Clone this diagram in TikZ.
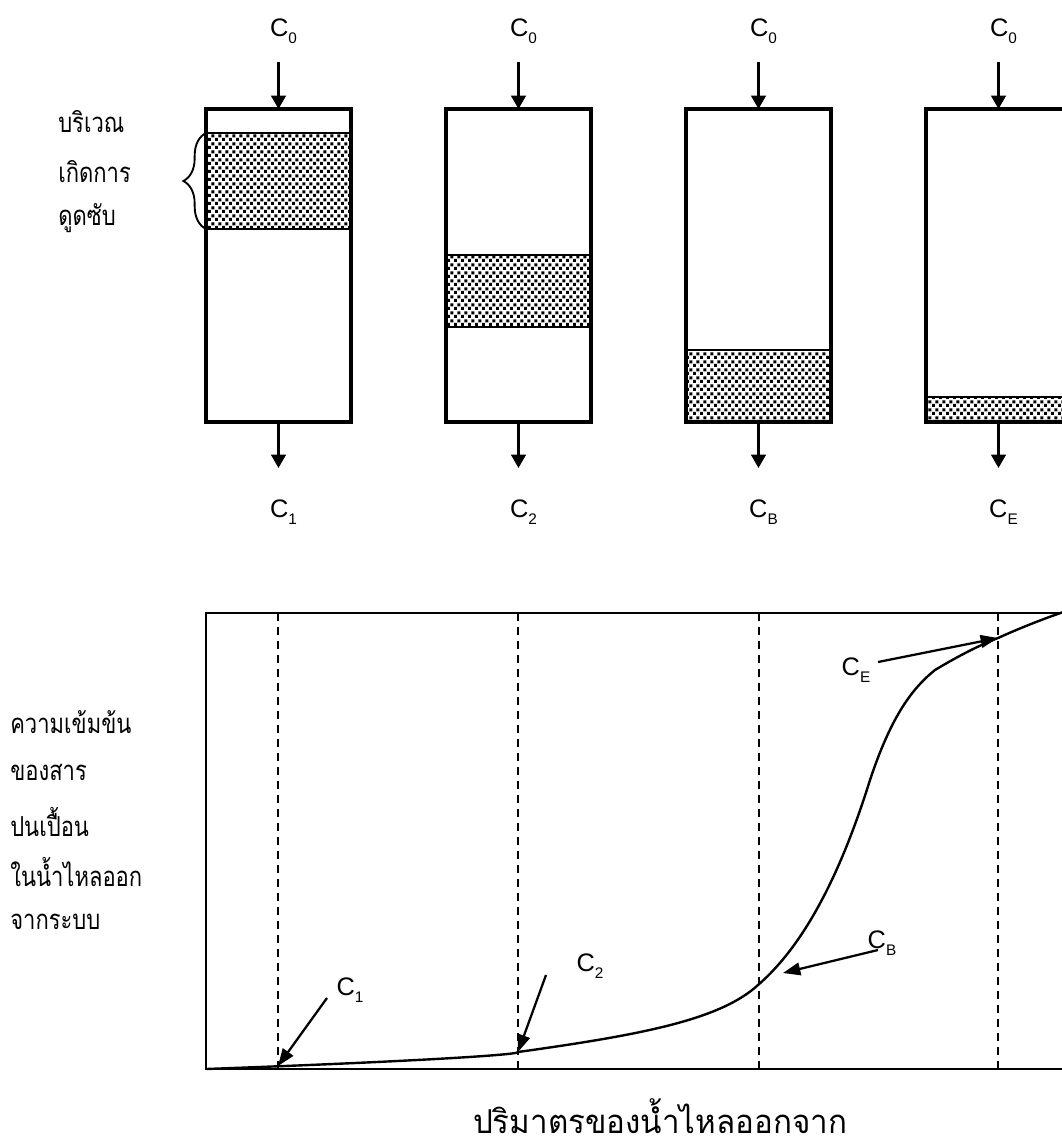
\documentclass[tikz,border=0pt]{standalone}
\usepackage{fontspec}
\setmainfont{Liberation Sans}
\newfontfamily\thai[Script=Thai]{Loma}
\usetikzlibrary{arrows.meta,decorations.pathreplacing,patterns}
\pgfdeclarepatternformonly{sqdots}{\pgfpointorigin}{\pgfpoint{5.6pt}{5.6pt}}{\pgfpoint{5.6pt}{5.6pt}}{%
  \pgfpathrectangle{\pgfpoint{0pt}{0pt}}{\pgfpoint{2.4pt}{2.4pt}}%
  \pgfpathrectangle{\pgfpoint{2.8pt}{2.8pt}}{\pgfpoint{2.4pt}{2.4pt}}%
  \pgfusepath{fill}}
\newcommand{\Csub}[1]{C\raisebox{-5pt}{\fontsize{11.5}{11.5}\selectfont #1}}
\newcommand{\tall}[1]{\scalebox{1}[1.25]{#1}}
\tikzset{
  colbox/.style={draw, line width=2.4pt},
  zone/.style={draw, line width=2pt, pattern=sqdots},
  flow/.style={line width=1.6pt, -{Triangle[length=10pt,width=11pt]}},
  pointer/.style={line width=1.7pt, -{Triangle[length=13pt,width=9.5pt]}},
  clabel/.style={font=\fontsize{19}{19}\selectfont, inner sep=0pt},
  thlabel/.style={font=\thai\fontsize{16.5}{20}\selectfont, anchor=west, inner sep=0pt},
  frame/.style={draw, line width=2pt},
  divider/.style={line width=2pt, dash pattern=on 6pt off 4.5pt},
  curve/.style={line width=1.8pt}
}
\begin{document}
\begin{tikzpicture}[x=0.75pt,y=-0.75pt]
\useasboundingbox (0,0) rectangle (1062,1147);
\begin{scope}
\clip (0,0) rectangle (1062,1147);
% columns
\foreach \i/\xl/\st/\sb/\lab in {1/206/133/229/1, 2/446/255/327/2, 3/686/350/422/B, 4/926/397/422/E}{
  \pgfmathsetmacro{\xr}{\xl+145}
  \pgfmathsetmacro{\xc}{\xl+72.5}
  \draw[zone] (\xl,\st) rectangle (\xr,\sb);
  \draw[colbox] (\xl,109) rectangle (\xr,422);
  \coordinate (top\i) at (\xc,109);
  \coordinate (bot\i) at (\xc,422);
  \coordinate (in\i) at (\xc,62);
  \coordinate (out\i) at (\xc,468);
  \draw[flow] (in\i) -- (top\i);
  \draw[flow] (bot\i) -- (out\i);
  \node[clabel] (c0\i) at (\xc+5,31) {\Csub{0}};
  \node[clabel] (cout\i) at (\xc+5,512) {\Csub{\lab}};
}
% graph
\draw[frame] (206,613) rectangle (1071,1069);
\foreach \x in {278,518,759,998}{
  \draw[divider] (\x,613) -- (\x,1069);
}
\coordinate (p0) at (206,1069);
\coordinate (p1) at (278,1066);
\coordinate (p2) at (518,1052);
\coordinate (p3) at (758,985);
\coordinate (p4) at (998,638);
\coordinate (pB) at (783,973);
\draw[curve] (p0) .. controls (400,1062) and (520,1055) .. (p2)
  .. controls (640,1035) and (720,1020) .. (p3)
  .. controls (810,940) and (845,860) .. (870,780)
  .. controls (890,720) and (910,690) .. (935,670)
  .. controls (960,655) and (980,645) .. (p4)
  .. controls (1020,628) and (1045,618) .. (1075,608);
\node[clabel] (l1) at (350,990) {\Csub{1}};
\node[clabel] (l2) at (590,966) {\Csub{2}};
\node[clabel] (lB) at (882,943) {\Csub{B}};
\node[clabel] (lE) at (856,670) {\Csub{E}};
\coordinate (s1) at (327,998);
\coordinate (s2) at (546,975);
\coordinate (sB) at (878,950);
\coordinate (sE) at (878,662);
\draw[pointer] (s1) -- (p1);
\draw[pointer] (s2) -- (p2);
\draw[pointer] (sB) -- (pB);
\draw[pointer] (sE) -- (p4);
\end{scope}
% brace and thai labels
\draw[line width=1.4pt, decorate, decoration={brace, amplitude=17pt}] (206,229) -- (206,133);
\node[thlabel] (t1) at (58,122) {\tall{บริเวณ}};
\node[thlabel] (t2) at (58,172) {\tall{เกิดการ}};
\node[thlabel] (t3) at (58,218) {\tall{ดูดซับ}};
\node[thlabel] (g1) at (10,722) {\tall{ความเข้มข้น}};
\node[thlabel] (g2) at (10,772) {\tall{ของสาร}};
\node[thlabel] (g3) at (10,822) {\tall{ปนเปื้อน}};
\node[thlabel] (g4) at (10,872) {\tall{ในน้ำไหลออก}};
\node[thlabel] (g5) at (10,922) {\tall{จากระบบ}};
\node[font=\thai\fontsize{23.5}{24}\selectfont, inner sep=0pt] (xl) at (660,1116) {\scalebox{1}[1.05]{ปริมาตรของน้ำไหลออกจาก}};
\end{tikzpicture}
\end{document}
